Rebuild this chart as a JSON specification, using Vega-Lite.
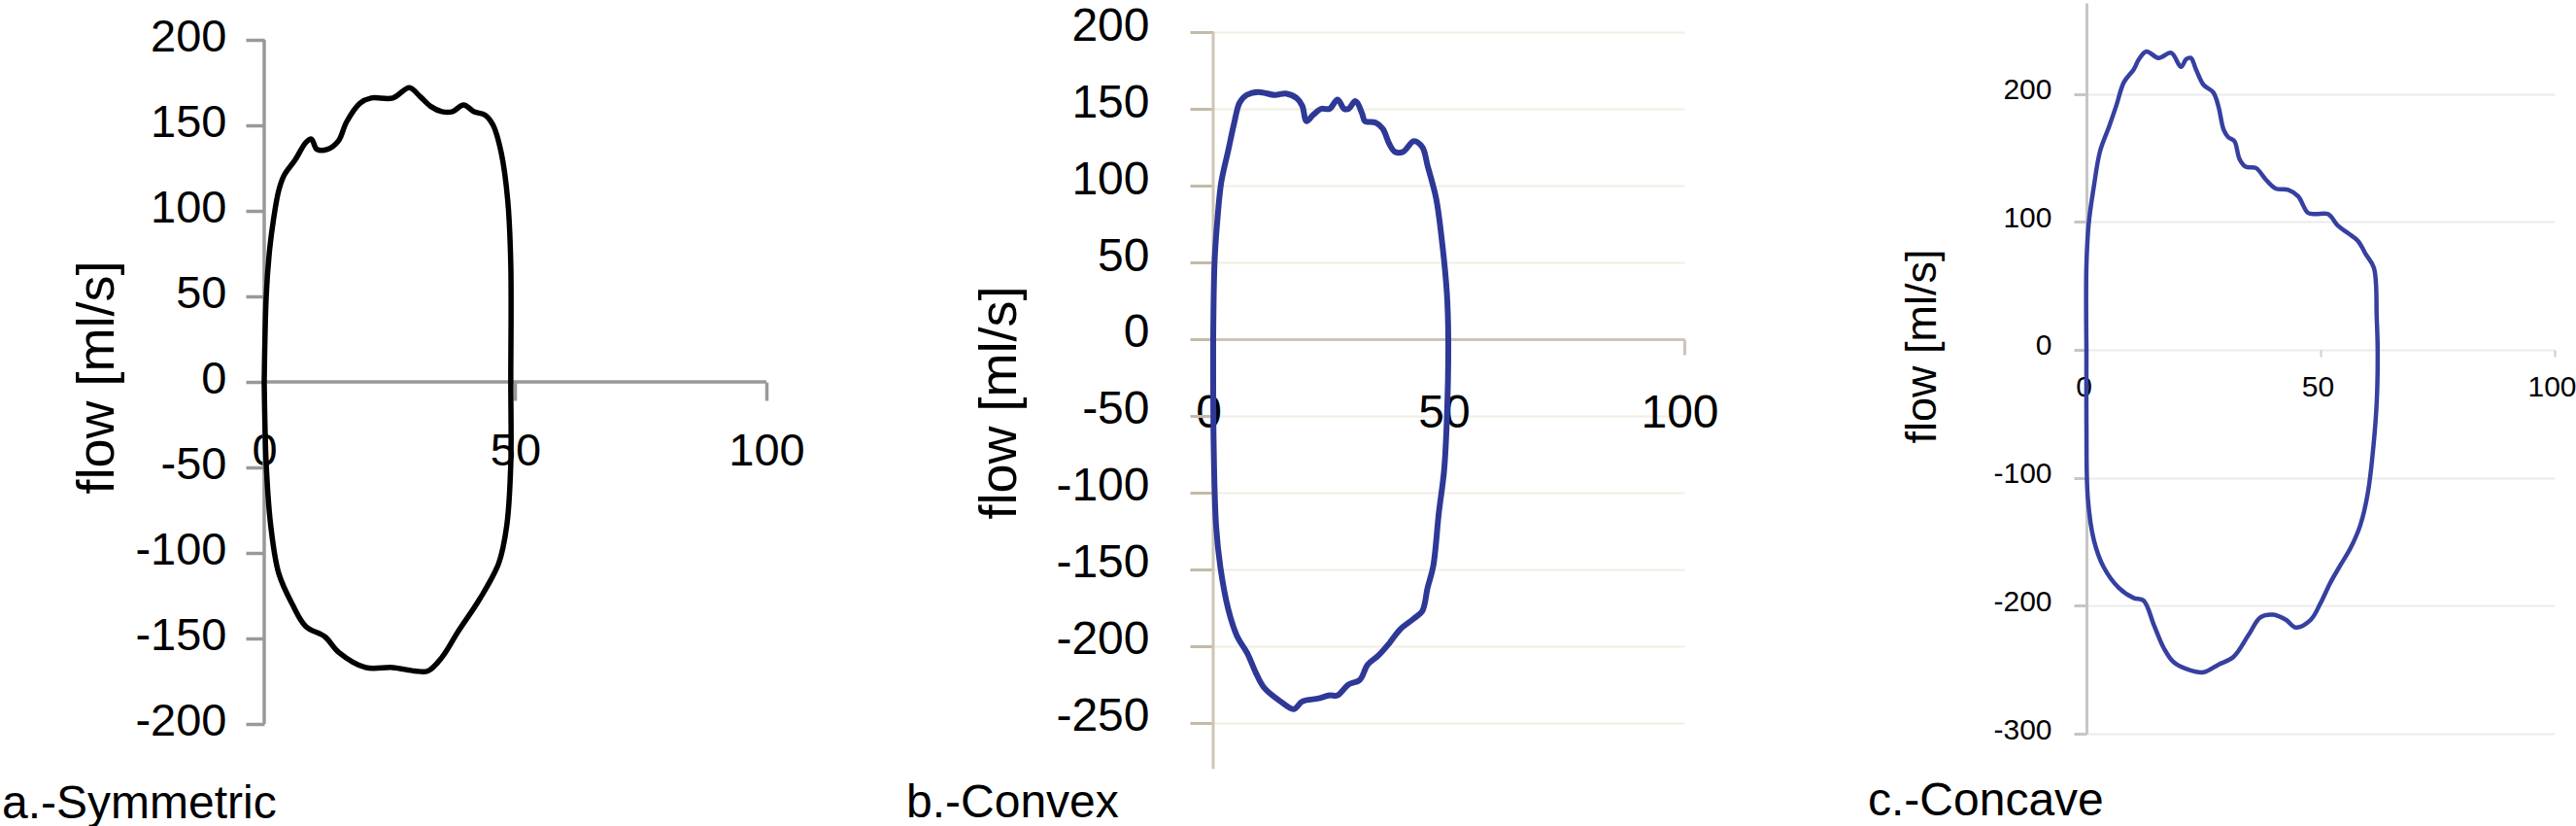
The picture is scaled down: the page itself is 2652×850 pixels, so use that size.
{
  "$schema": "https://vega.github.io/schema/vega-lite/v6.json",
  "background": "white",
  "padding": {"left": 2, "top": 3, "right": 0, "bottom": 0},
  "config": {
    "font": "Liberation Sans",
    "locale": {"number": {"decimal": ".", "thousands": ",", "grouping": [3], "currency": ["$", ""], "minus": "-"}},
    "view": {"stroke": null},
    "axis": {"labelColor": "black", "titleColor": "black", "titleFontWeight": "normal", "labelFont": "Liberation Sans", "titleFont": "Liberation Sans", "labelOverlap": false, "labelBound": false, "labelFlush": false},
    "title": {"font": "Liberation Sans", "fontWeight": "normal", "color": "black"}
  },
  "datasets": {
    "curves": [
      {"panel":"a","i":0,"volume":0,"flow":0},{"panel":"a","i":1,"volume":0.4,"flow":50},{"panel":"a","i":2,"volume":1,"flow":75},{"panel":"a","i":3,"volume":1.8,"flow":94},{"panel":"a","i":4,"volume":2.9,"flow":112},{"panel":"a","i":5,"volume":4,"flow":121},{"panel":"a","i":6,"volume":6.2,"flow":130},{"panel":"a","i":7,"volume":8.3,"flow":140},{"panel":"a","i":8,"volume":9.4,"flow":142},{"panel":"a","i":9,"volume":10.5,"flow":136},{"panel":"a","i":10,"volume":12.6,"flow":136},{"panel":"a","i":11,"volume":14.8,"flow":141},{"panel":"a","i":12,"volume":16.4,"flow":152},{"panel":"a","i":13,"volume":19.1,"flow":163},{"panel":"a","i":14,"volume":21.3,"flow":166},{"panel":"a","i":15,"volume":25.6,"flow":166},{"panel":"a","i":16,"volume":28.9,"flow":172},{"panel":"a","i":17,"volume":31,"flow":167},{"panel":"a","i":18,"volume":33.2,"flow":161},{"panel":"a","i":19,"volume":35.4,"flow":158},{"panel":"a","i":20,"volume":37.5,"flow":158},{"panel":"a","i":21,"volume":39.7,"flow":162},{"panel":"a","i":22,"volume":41.8,"flow":158},{"panel":"a","i":23,"volume":44,"flow":156},{"panel":"a","i":24,"volume":45.6,"flow":150},{"panel":"a","i":25,"volume":47.2,"flow":134},{"panel":"a","i":26,"volume":48.5,"flow":106},{"panel":"a","i":27,"volume":49.1,"flow":69},{"panel":"a","i":28,"volume":49.1,"flow":0},{"panel":"a","i":29,"volume":49.1,"flow":-48},{"panel":"a","i":30,"volume":48.3,"flow":-84},{"panel":"a","i":31,"volume":46.7,"flow":-106},{"panel":"a","i":32,"volume":42.9,"flow":-127},{"panel":"a","i":33,"volume":38.6,"flow":-146},{"panel":"a","i":34,"volume":35.4,"flow":-161},{"panel":"a","i":35,"volume":32.6,"flow":-169},{"panel":"a","i":36,"volume":30,"flow":-169},{"panel":"a","i":37,"volume":25.6,"flow":-167},{"panel":"a","i":38,"volume":20.2,"flow":-167},{"panel":"a","i":39,"volume":14.8,"flow":-158},{"panel":"a","i":40,"volume":12.1,"flow":-149},{"panel":"a","i":41,"volume":8.3,"flow":-143},{"panel":"a","i":42,"volume":5.6,"flow":-130},{"panel":"a","i":43,"volume":2.9,"flow":-112},{"panel":"a","i":44,"volume":1.3,"flow":-84},{"panel":"a","i":45,"volume":0.4,"flow":-48},{"panel":"a","i":46,"volume":0,"flow":0},
      {"panel":"b","i":0,"volume":0,"flow":0},{"panel":"b","i":1,"volume":0.3,"flow":51},{"panel":"b","i":2,"volume":0.9,"flow":78},{"panel":"b","i":3,"volume":1.7,"flow":102},{"panel":"b","i":4,"volume":3.2,"flow":123},{"panel":"b","i":5,"volume":4.4,"flow":140},{"panel":"b","i":6,"volume":5.6,"flow":154},{"panel":"b","i":7,"volume":7.1,"flow":159},{"panel":"b","i":8,"volume":9.6,"flow":161},{"panel":"b","i":9,"volume":13.1,"flow":159},{"panel":"b","i":10,"volume":15.4,"flow":160},{"panel":"b","i":11,"volume":17.7,"flow":157},{"panel":"b","i":12,"volume":18.9,"flow":152},{"panel":"b","i":13,"volume":19.8,"flow":142},{"panel":"b","i":14,"volume":21.2,"flow":146},{"panel":"b","i":15,"volume":22.9,"flow":150},{"panel":"b","i":16,"volume":24.7,"flow":150},{"panel":"b","i":17,"volume":26.4,"flow":156},{"panel":"b","i":18,"volume":27.8,"flow":150},{"panel":"b","i":19,"volume":28.7,"flow":150},{"panel":"b","i":20,"volume":30.2,"flow":155},{"panel":"b","i":21,"volume":31.6,"flow":147},{"panel":"b","i":22,"volume":32.2,"flow":142},{"panel":"b","i":23,"volume":34.5,"flow":141},{"panel":"b","i":24,"volume":36,"flow":137},{"panel":"b","i":25,"volume":37.4,"flow":127},{"panel":"b","i":26,"volume":38.6,"flow":122},{"panel":"b","i":27,"volume":40.3,"flow":122},{"panel":"b","i":28,"volume":42.6,"flow":129},{"panel":"b","i":29,"volume":44.4,"flow":125},{"panel":"b","i":30,"volume":45.5,"flow":113},{"panel":"b","i":31,"volume":47.3,"flow":92},{"panel":"b","i":32,"volume":48.4,"flow":68},{"panel":"b","i":33,"volume":49.6,"flow":30},{"panel":"b","i":34,"volume":49.9,"flow":0},{"panel":"b","i":35,"volume":49.6,"flow":-52},{"panel":"b","i":36,"volume":49,"flow":-86},{"panel":"b","i":37,"volume":47.9,"flow":-113},{"panel":"b","i":38,"volume":46.7,"flow":-148},{"panel":"b","i":39,"volume":45.5,"flow":-162},{"panel":"b","i":40,"volume":44.4,"flow":-177},{"panel":"b","i":41,"volume":42.6,"flow":-182},{"panel":"b","i":42,"volume":39.7,"flow":-189},{"panel":"b","i":43,"volume":37.4,"flow":-198},{"panel":"b","i":44,"volume":35.1,"flow":-206},{"panel":"b","i":45,"volume":32.8,"flow":-212},{"panel":"b","i":46,"volume":31.1,"flow":-222},{"panel":"b","i":47,"volume":28.7,"flow":-225},{"panel":"b","i":48,"volume":26.4,"flow":-232},{"panel":"b","i":49,"volume":24.7,"flow":-232},{"panel":"b","i":50,"volume":22.4,"flow":-234},{"panel":"b","i":51,"volume":18.9,"flow":-236},{"panel":"b","i":52,"volume":17.1,"flow":-241},{"panel":"b","i":53,"volume":14.3,"flow":-236},{"panel":"b","i":54,"volume":10.8,"flow":-227},{"panel":"b","i":55,"volume":9,"flow":-217},{"panel":"b","i":56,"volume":7.3,"flow":-205},{"panel":"b","i":57,"volume":5,"flow":-193},{"panel":"b","i":58,"volume":3.2,"flow":-176},{"panel":"b","i":59,"volume":1.5,"flow":-148},{"panel":"b","i":60,"volume":0.6,"flow":-121},{"panel":"b","i":61,"volume":0.1,"flow":-69},{"panel":"b","i":62,"volume":0,"flow":0},
      {"panel":"c","i":0,"volume":0,"flow":0},{"panel":"c","i":1,"volume":0,"flow":66},{"panel":"c","i":2,"volume":0.5,"flow":99},{"panel":"c","i":3,"volume":1.6,"flow":128},{"panel":"c","i":4,"volume":2.9,"flow":155},{"panel":"c","i":5,"volume":4.8,"flow":174},{"panel":"c","i":6,"volume":6.4,"flow":191},{"panel":"c","i":7,"volume":8,"flow":209},{"panel":"c","i":8,"volume":10.1,"flow":219},{"panel":"c","i":9,"volume":11.2,"flow":227},{"panel":"c","i":10,"volume":12.8,"flow":233},{"panel":"c","i":11,"volume":15.4,"flow":228},{"panel":"c","i":12,"volume":18.1,"flow":232},{"panel":"c","i":13,"volume":20.2,"flow":221},{"panel":"c","i":14,"volume":21.3,"flow":227},{"panel":"c","i":15,"volume":22.3,"flow":228},{"panel":"c","i":16,"volume":23.4,"flow":219},{"panel":"c","i":17,"volume":25,"flow":207},{"panel":"c","i":18,"volume":27.1,"flow":201},{"panel":"c","i":19,"volume":28.2,"flow":190},{"panel":"c","i":20,"volume":29.3,"flow":172},{"panel":"c","i":21,"volume":30.3,"flow":166},{"panel":"c","i":22,"volume":31.6,"flow":163},{"panel":"c","i":23,"volume":32.7,"flow":149},{"panel":"c","i":24,"volume":34,"flow":143},{"panel":"c","i":25,"volume":36.2,"flow":142},{"panel":"c","i":26,"volume":38.3,"flow":133},{"panel":"c","i":27,"volume":40.4,"flow":126},{"panel":"c","i":28,"volume":43.1,"flow":125},{"panel":"c","i":29,"volume":45.2,"flow":120},{"panel":"c","i":30,"volume":47.3,"flow":107},{"panel":"c","i":31,"volume":48.9,"flow":106},{"panel":"c","i":32,"volume":51.6,"flow":106},{"panel":"c","i":33,"volume":53.7,"flow":97},{"panel":"c","i":34,"volume":55.9,"flow":91},{"panel":"c","i":35,"volume":58,"flow":85},{"panel":"c","i":36,"volume":59.6,"flow":75},{"panel":"c","i":37,"volume":61.4,"flow":64},{"panel":"c","i":38,"volume":62,"flow":25},{"panel":"c","i":39,"volume":62.2,"flow":0},{"panel":"c","i":40,"volume":62,"flow":-41},{"panel":"c","i":41,"volume":61.2,"flow":-79},{"panel":"c","i":42,"volume":60.1,"flow":-112},{"panel":"c","i":43,"volume":58.5,"flow":-137},{"panel":"c","i":44,"volume":56.4,"flow":-155},{"panel":"c","i":45,"volume":54.3,"flow":-168},{"panel":"c","i":46,"volume":52.1,"flow":-182},{"panel":"c","i":47,"volume":50,"flow":-198},{"panel":"c","i":48,"volume":47.9,"flow":-211},{"panel":"c","i":49,"volume":44.7,"flow":-217},{"panel":"c","i":50,"volume":42.6,"flow":-211},{"panel":"c","i":51,"volume":39.9,"flow":-207},{"panel":"c","i":52,"volume":37.2,"flow":-209},{"panel":"c","i":53,"volume":34.6,"flow":-223},{"panel":"c","i":54,"volume":31.4,"flow":-240},{"panel":"c","i":55,"volume":28.2,"flow":-246},{"panel":"c","i":56,"volume":25,"flow":-252},{"panel":"c","i":57,"volume":21.8,"flow":-250},{"panel":"c","i":58,"volume":18.6,"flow":-244},{"panel":"c","i":59,"volume":16.5,"flow":-233},{"panel":"c","i":60,"volume":14.4,"flow":-215},{"panel":"c","i":61,"volume":12.2,"flow":-196},{"panel":"c","i":62,"volume":10.1,"flow":-194},{"panel":"c","i":63,"volume":6.9,"flow":-186},{"panel":"c","i":64,"volume":3.7,"flow":-170},{"panel":"c","i":65,"volume":1.6,"flow":-149},{"panel":"c","i":66,"volume":0.3,"flow":-116},{"panel":"c","i":67,"volume":0,"flow":-58},{"panel":"c","i":68,"volume":0,"flow":0}
    ],
    "axislines": [
      {"panel":"a","volume":0,"volume2":0,"flow":-200,"flow2":200},
      {"panel":"a","volume":0,"volume2":100,"flow":0,"flow2":0},
      {"panel":"b","volume":0,"volume2":0,"flow":-280,"flow2":200}
    ]
  },
  "hconcat": [
    {
      "width": 563,
      "height": 789,
      "title": {"text": "a.-Symmetric", "orient": "bottom", "anchor": "start", "frame": "group", "dx": -270, "offset": 12, "fontSize": 48},
      "encoding": {
        "x": {"field": "volume", "type": "quantitative", "scale": {"domain": [0, 108.9], "nice": false, "zero": false},
          "axis": {"values": [0, 50, 100], "domain": false, "grid": false, "tickSize": 19, "tickColor": "#999999", "tickWidth": 3.5, "labelFontSize": 47, "labelPadding": 29, "offset": -399, "title": null}},
        "y": {"field": "flow", "type": "quantitative", "scale": {"domain": [-226.7, 221.6], "nice": false, "zero": false},
          "axis": {"values": [-200, -150, -100, -50, 0, 50, 100, 150, 200], "domain": false, "grid": false, "tickSize": 19, "tickColor": "#999999", "tickWidth": 3.5, "labelFontSize": 47, "labelPadding": 20, "labelOffset": -3, "title": "flow [ml/s]", "titleFontSize": 54, "titleX": -172, "titleY": 385, "titleAngle": 270, "titleAlign": "center", "titleBaseline": "middle"}}
      },
      "layer": [
        {"data": {"name": "axislines"}, "transform": [{"filter": "datum.panel === 'a'"}],
         "mark": {"type": "rule", "color": "#999999", "strokeWidth": 3.5},
         "encoding": {"x2": {"field": "volume2"}, "y2": {"field": "flow2"}}},
        {"data": {"name": "curves"}, "transform": [{"filter": "datum.panel === 'a'"}],
         "mark": {"type": "line", "color": "#000000", "strokeWidth": 5.5, "strokeJoin": "round", "interpolate": "catmull-rom"},
         "encoding": {"order": {"field": "i", "type": "quantitative"}}}
      ]
    },
    {
      "width": 485,
      "height": 789,
      "title": {"text": "b.-Convex", "orient": "bottom", "anchor": "start", "frame": "group", "dx": -316, "offset": 10, "fontSize": 48},
      "encoding": {
        "x": {"field": "volume", "type": "quantitative", "scale": {"domain": [0, 100], "nice": false, "zero": false},
          "axis": {"values": [0, 50, 100], "domain": true, "domainColor": "#cdc5b5", "domainWidth": 3, "grid": false, "tickSize": 16, "tickColor": "#cdc5b5", "tickWidth": 3, "labelFontSize": 48, "labelPadding": 36, "labelOffset": -5, "offset": -443, "title": null}},
        "y": {"field": "flow", "type": "quantitative", "scale": {"domain": [-280.4, 219], "nice": false, "zero": false},
          "axis": {"values": [-250, -200, -150, -100, -50, 0, 50, 100, 150, 200], "domain": false, "grid": true, "gridColor": "#f1eee2", "gridWidth": 2, "tickSize": 24, "tickColor": "#c3baa9", "tickWidth": 3, "labelFontSize": 48, "labelPadding": 42, "labelOffset": -6, "title": "flow [ml/s]", "titleFontSize": 54, "titleX": -220, "titleY": 411, "titleAngle": 270, "titleAlign": "center", "titleBaseline": "middle"}}
      },
      "layer": [
        {"data": {"name": "axislines"}, "transform": [{"filter": "datum.panel === 'b'"}],
         "mark": {"type": "rule", "color": "#cdc5b5", "strokeWidth": 3},
         "encoding": {"x2": {"field": "volume2"}, "y2": {"field": "flow2"}}},
        {"data": {"name": "curves"}, "transform": [{"filter": "datum.panel === 'b'"}],
         "mark": {"type": "line", "color": "#2e3896", "strokeWidth": 6, "strokeJoin": "round", "interpolate": "catmull-rom"},
         "encoding": {"order": {"field": "i", "type": "quantitative"}}}
      ]
    },
    {
      "width": 482,
      "height": 752,
      "title": {"text": "c.-Concave", "orient": "bottom", "anchor": "start", "frame": "group", "dx": -225, "offset": 35, "fontSize": 48},
      "data": {"name": "curves"},
      "transform": [{"filter": "datum.panel === 'c'"}],
      "mark": {"type": "line", "color": "#3540a0", "strokeWidth": 4.5, "strokeJoin": "round", "interpolate": "catmull-rom"},
      "encoding": {
        "x": {"field": "volume", "type": "quantitative", "scale": {"domain": [0, 100], "nice": false, "zero": false},
          "axis": {"values": [0, 50, 100], "domain": false, "grid": false, "tickSize": 7, "tickColor": "#cccccc", "tickWidth": 2, "labelFontSize": 30, "labelPadding": 16, "labelOffset": -3, "offset": -395, "title": null}},
        "y": {"field": "flow", "type": "quantitative", "scale": {"domain": [-300, 271], "nice": false, "zero": false},
          "axis": {"values": [-300, -200, -100, 0, 100, 200], "domain": true, "domainColor": "#c6c6c6", "domainWidth": 3, "grid": true, "gridColor": "#ebebeb", "gridWidth": 2, "tickSize": 13, "tickColor": "#c6c6c6", "tickWidth": 3, "labelFontSize": 30, "labelPadding": 23, "labelOffset": -4, "title": "flow [ml/s]", "titleFontSize": 45, "titleX": -170, "titleY": 353, "titleAngle": 270, "titleAlign": "center", "titleBaseline": "middle"}},
        "order": {"field": "i", "type": "quantitative"}
      }
    }
  ],
  "spacing": 414,
  "bounds": "flush"
}
